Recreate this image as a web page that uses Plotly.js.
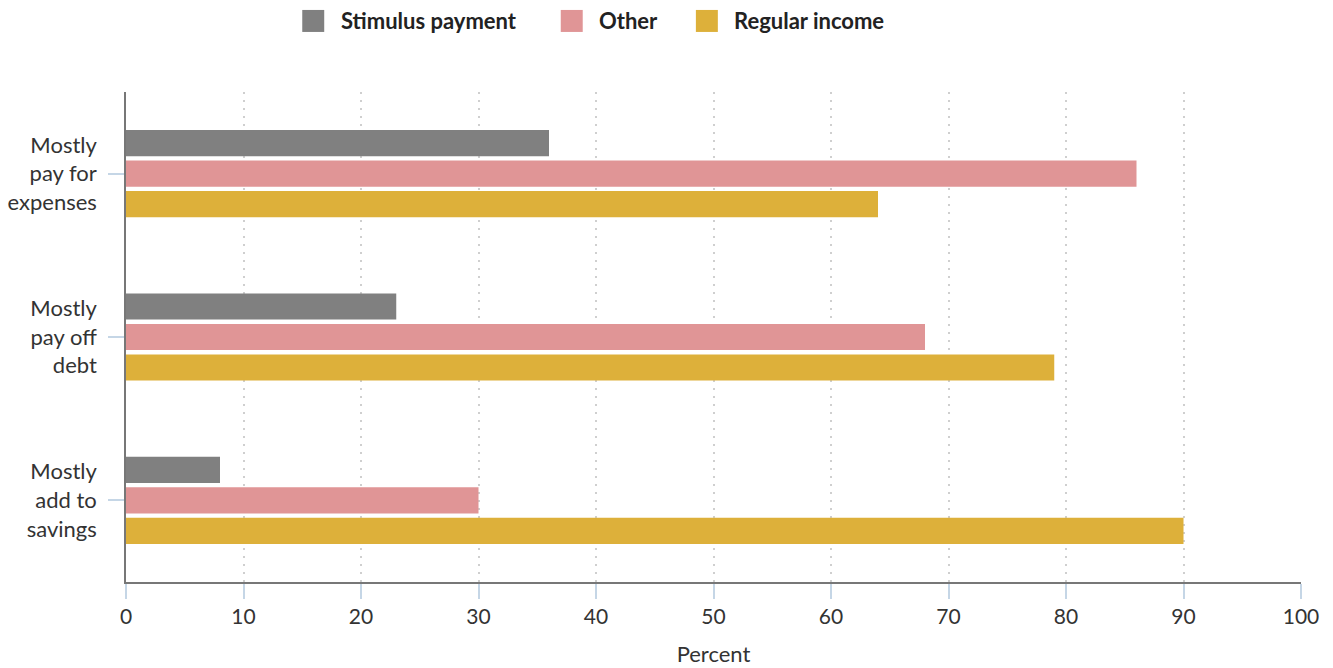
<!DOCTYPE html>
<html>
<head>
<meta charset="utf-8">
<script src="https://cdn.plot.ly/plotly-3.0.1.min.js"></script>
<style>
  html, body { margin: 0; padding: 0; background: #ffffff; }
  #chart { width: 1333px; height: 668px; }
</style>
</head>
<body>
<div id="chart"></div>
<script>
// Categories, top to bottom
const categories = [
  "Mostly<br>pay for<br>expenses",
  "Mostly<br>pay off<br>debt",
  "Mostly<br>add to<br>savings"
];

// Series values (percent)
const stimulusPayment = [36, 23, 8];
const otherIncome = [86, 68, 30];
const regularIncome = [64, 79, 90];

const seriesNames = ["Stimulus payment", "Other", "Regular income"];
const seriesColors = ["#808080", "#e09596", "#ddb03a"];

const xTickValues = [0, 10, 20, 30, 40, 50, 60, 70, 80, 90, 100];

const FONT = "Lato, 'Open Sans', sans-serif";

const seriesValues = [stimulusPayment, otherIncome, regularIncome];
const traces = seriesValues.map((vals, i) => ({
  type: "bar",
  orientation: "h",
  name: seriesNames[i],
  y: categories,
  x: vals,
  marker: { color: seriesColors[i], line: { width: 0 } },
  showlegend: false,
  hoverinfo: "x+name"
}));

// Legend drawn across the top: square swatch plus bold label
const legendX = [0.150, 0.370, 0.485];
const legendY = 1.145;
const swatchW = 0.0187;
const swatchH = 0.0449;
const shapes = [];
const annotations = [];
seriesNames.forEach((name, i) => {
  shapes.push({
    type: "rect", xref: "paper", yref: "paper",
    x0: legendX[i], x1: legendX[i] + swatchW,
    y0: legendY - swatchH / 2, y1: legendY + swatchH / 2,
    fillcolor: seriesColors[i], line: { width: 0 }
  });
  annotations.push({
    xref: "paper", yref: "paper",
    x: legendX[i] + 0.031, y: legendY,
    xanchor: "left", yanchor: "middle",
    text: "<b>" + name + "</b>", showarrow: false,
    font: { family: FONT, size: 22, color: "#222222" }
  });
});

const layout = {
  width: 1333,
  height: 668,
  margin: { l: 126, r: 32, t: 92, b: 86 },
  paper_bgcolor: "#ffffff",
  plot_bgcolor: "#ffffff",
  barmode: "group",
  bargap: 0.44,
  bargroupgap: 0.14,
  font: { family: FONT, size: 21, color: "#333333" },
  xaxis: {
    range: [0, 100],
    tickvals: xTickValues,
    ticktext: xTickValues.map(String),
    showgrid: true,
    gridcolor: "#cfcfcf",
    griddash: "2px,6px",
    gridwidth: 1.5,
    zeroline: false,
    showline: true,
    linecolor: "#777777",
    linewidth: 1.5,
    ticks: "outside",
    ticklen: 15,
    tickcolor: "#c5d6e6",
    tickwidth: 1.5,
    tickfont: { family: FONT, size: 21, color: "#333333" },
    title: { text: "Percent", font: { family: FONT, size: 22, color: "#333333" }, standoff: 20 },
    fixedrange: true
  },
  yaxis: {
    autorange: "reversed",
    showgrid: false,
    zeroline: false,
    showline: true,
    linecolor: "#777777",
    linewidth: 1.5,
    ticks: "outside",
    ticklen: 16,
    tickcolor: "#c5d6e6",
    tickwidth: 1.5,
    ticklabelstandoff: 7,
    tickfont: { family: FONT, size: 22, color: "#333333" },
    fixedrange: true
  },
  shapes: shapes,
  annotations: annotations
};

Plotly.newPlot("chart", traces, layout, { displayModeBar: false });
</script>
</body>
</html>
